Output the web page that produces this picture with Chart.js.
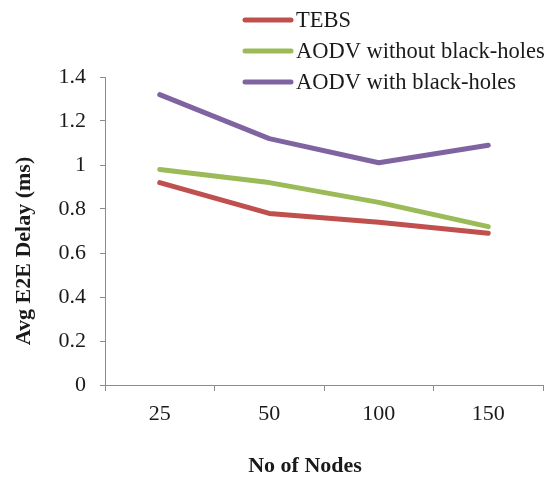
<!DOCTYPE html>
<html>
<head>
<meta charset="utf-8">
<script src="https://cdn.jsdelivr.net/npm/chart.js@4.4.1/dist/chart.umd.min.js"></script>
<style>
  html, body { margin: 0; padding: 0; background: #fff; }
  #wrap { width: 556px; height: 478px; }
</style>
</head>
<body>
<div id="wrap"><canvas id="delayChart" width="556" height="478"></canvas></div>
<script>
// number of nodes in the network
var nodes = ['25', '50', '100', '150'];

// average end-to-end delay (ms)
var tebs = [0.92, 0.78, 0.74, 0.69];
var aodvNoBH = [0.98, 0.92, 0.83, 0.72];
var aodvBH = [1.32, 1.12, 1.01, 1.09];

var yTicks = [0, 0.2, 0.4, 0.6, 0.8, 1, 1.2, 1.4];

var xTitle = 'No of Nodes';
var yTitle = 'Avg E2E Delay (ms)';

var serif = "'Liberation Serif', 'Times New Roman', serif";
var axisGrey = '#8c8c8c';
var textColor = '#1a1a1a';

// stacked legend in the top right corner, plus both axis titles
var decorations = {
    id: 'decorations',
    afterDraw: function (chart) {
        var ctx = chart.ctx;
        var rows = [20, 51, 82];
        ctx.save();
        ctx.font = '22.5px ' + serif;
        ctx.textBaseline = 'middle';
        chart.data.datasets.forEach(function (ds, i) {
            ctx.strokeStyle = ds.borderColor;
            ctx.lineWidth = 5;
            ctx.lineCap = 'round';
            ctx.beginPath();
            ctx.moveTo(245, rows[i]);
            ctx.lineTo(291, rows[i]);
            ctx.stroke();
            ctx.fillStyle = textColor;
            ctx.textAlign = 'left';
            ctx.fillText(ds.label, 296, rows[i] + 1);
        });

        ctx.font = 'bold 22px ' + serif;
        ctx.textAlign = 'center';
        ctx.fillText(xTitle, 305, 466);

        ctx.translate(24, 251);
        ctx.rotate(-Math.PI / 2);
        ctx.fillText(yTitle, 0, 0);
        ctx.restore();
    }
};

var chartdata = {
    labels: nodes,
    datasets: [
        { label: 'TEBS', data: tebs, borderColor: '#C0504D' },
        { label: 'AODV without black-holes', data: aodvNoBH, borderColor: '#9BBB59' },
        { label: 'AODV with black-holes', data: aodvBH, borderColor: '#8064A2' }
    ]
};

chartdata.datasets.forEach(function (ds) {
    ds.backgroundColor = ds.borderColor;
    ds.borderWidth = 5;
    ds.pointRadius = 0;
    ds.borderCapStyle = 'round';
    ds.borderJoinStyle = 'round';
    ds.tension = 0;
    ds.fill = false;
});

new Chart(document.getElementById('delayChart'), {
    type: 'line',
    data: chartdata,
    plugins: [decorations],
    options: {
        responsive: false,
        animation: false,
        devicePixelRatio: 1,
        layout: { padding: { top: 77, right: 13, bottom: 0, left: 0 } },
        plugins: {
            legend: { display: false },
            tooltip: { enabled: false }
        },
        scales: {
            x: {
                offset: true,
                grid: { drawOnChartArea: false, drawTicks: true, tickLength: 6, color: axisGrey, offset: true },
                border: { color: axisGrey, width: 1 },
                ticks: { color: textColor, font: { family: serif, size: 22 }, padding: 10 },
                afterFit: function (scale) { scale.height = 93; }
            },
            y: {
                min: 0,
                max: 1.4,
                afterBuildTicks: function (scale) {
                    scale.ticks = yTicks.map(function (v) { return { value: v }; });
                },
                grid: { drawOnChartArea: false, drawTicks: true, tickLength: 5, color: axisGrey },
                border: { color: axisGrey, width: 1 },
                ticks: { color: textColor, font: { family: serif, size: 22 }, padding: 14,
                    callback: function (v) { return String(v); } },
                afterFit: function (scale) { scale.width = 105; }
            }
        }
    }
});
</script>
</body>
</html>
